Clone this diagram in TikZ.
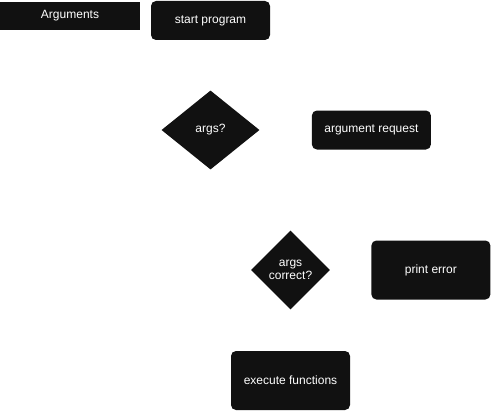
\documentclass[tikz,border=0pt]{standalone}
\usepackage{fontspec}
\usepackage{xcolor}
\usetikzlibrary{positioning,shapes.geometric}
\setmainfont{Liberation Sans}
\definecolor{nodefill}{HTML}{111111}

\begin{document}
\begin{tikzpicture}[
      x=1pt,y=1pt,
      node distance=40pt,
      every node/.style={font=\fontsize{12}{13.5}\selectfont,text=white},
      label box/.style={rectangle,fill=nodefill,align=center,minimum width=140pt,minimum height=28pt},
      box/.style={rectangle,fill=nodefill,rounded corners=5pt,align=center,minimum width=119pt,minimum height=39pt},
      tall box/.style={box,minimum height=59pt},
      decision/.style={diamond,fill=nodefill,align=center,inner sep=0pt,aspect=1.2}
    ]
    \useasboundingbox (0,0) rectangle (492,-412);
    \node[label box] (arguments) at (70,-16) {Arguments};
    \node[box] (start) at (210.5,-20.5) {start program};
    \node[decision,minimum width=98pt,minimum height=79pt] (args) at (210.5,-130) {args?};
    \node[box,right=52pt of args] (request) {argument request};
    \node[decision,aspect=1,minimum width=79pt,minimum height=79pt] (correct) at (290.5,-270) {args\\correct?};
    \node[tall box,right=41pt of correct] (error) {print error};
    \node[tall box] (execute) at (290.5,-380.5) {execute functions};
  \end{tikzpicture}
\end{document}
